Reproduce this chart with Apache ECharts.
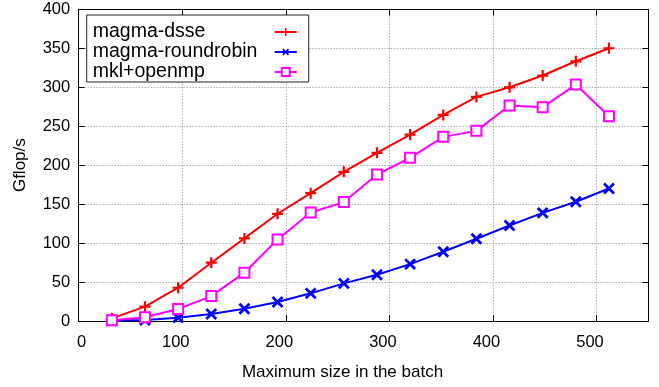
<!DOCTYPE html>
<html><head><meta charset="utf-8">
<script src="https://cdn.jsdelivr.net/npm/echarts@6/dist/echarts.min.js"></script>
<style>html,body{margin:0;padding:0;background:#fff}#c{width:659px;height:387px}</style>
</head><body><div id="c"></div>
<script>
const batchSizes = [32, 64, 96, 128, 160, 192, 224, 256, 288, 320, 352, 384, 416, 448, 480, 512];
const magmaDsse = [3.4, 18.4, 42.7, 74.8, 106, 137.6, 164.1, 191.4, 215.8, 239.3, 264.5, 287.6, 299.9, 315, 333.3, 350];
const magmaRoundrobin = [0.4, 1.3, 4.3, 9, 15.8, 24.4, 35.5, 48.3, 59.4, 73, 88.9, 105.6, 122.6, 138.8, 153, 170];
const mklOpenmp = [1, 4.7, 15.4, 32, 62, 104.7, 139.3, 152.6, 188, 209.4, 236.3, 244, 276.5, 274.4, 303.4, 262.8];
const seriesNames = ['magma-dsse', 'magma-roundrobin', 'mkl+openmp'];
const xTitle = 'Maximum size in the batch';
const yTitle = 'Gflop/s';

const FONT = '"Liberation Sans", Arial, Helvetica, sans-serif';
const pairs = arr => batchSizes.map((x, i) => [x, arr[i]]);
const PLUS = 'path://M4,0H6V4H10V6H6V10H4V6H0V4H4Z';

const chart = echarts.init(document.getElementById('c'));
const mkGrid = () => ({show: true, lineStyle: {color: '#888', type: [1, 2], width: 1}});
const mkLine = () => ({show: true, onZero: false, lineStyle: {color: '#000', width: 1}});
const mkTick = () => ({show: true, inside: true, length: 6, lineStyle: {color: '#000', width: 1}});

chart.setOption({
  animation: false,
  textStyle: {fontFamily: FONT},
  grid: {left: 78.7, right: 10.7, top: 9.3, bottom: 66},
  legend: {
    data: seriesNames,
    orient: 'vertical',
    left: 86.7, top: 15,
    align: 'right',
    itemWidth: 22, itemHeight: 10, itemGap: 0,
    padding: [7, 11, 0, 6],
    borderColor: '#222', borderWidth: 1,
    backgroundColor: '#fff',
    formatter: n => '{t|' + n + '}',
    textStyle: {
      fontFamily: FONT, fontSize: 19.5, color: '#000',
      rich: {t: {fontFamily: FONT, fontSize: 19.5, color: '#000', width: 177, align: 'left', lineHeight: 19.5}}
    }
  },
  xAxis: [{
    type: 'value', min: 0, max: 550, interval: 100,
    axisLine: mkLine(), axisTick: mkTick(), splitLine: mkGrid(),
    axisLabel: {
      margin: 13, color: '#000', fontSize: 16.5, fontFamily: FONT,
      formatter: v => v % 100 !== 0 ? '' : (v === 0 ? '{z|0}' : '{n|' + v + '}'),
      rich: {
        z: {fontSize: 16.5, fontFamily: FONT, color: '#000', padding: [0, 0, 0, 6]},
        n: {fontSize: 16.5, fontFamily: FONT, color: '#000', padding: [0, 13, 0, 0]}
      }
    },
    name: xTitle, nameLocation: 'middle', nameGap: 43,
    nameTextStyle: {fontSize: 17, color: '#000', fontFamily: FONT, padding: [0, 42, 0, 0]}
  }, {
    type: 'value', min: 0, max: 550, interval: 100, position: 'top',
    axisLine: mkLine(), axisTick: mkTick(), splitLine: {show: false}, axisLabel: {show: false}
  }],
  yAxis: [{
    type: 'value', min: 0, max: 400, interval: 50,
    axisLine: mkLine(), axisTick: mkTick(), splitLine: mkGrid(),
    axisLabel: {margin: 8.5, color: '#000', fontSize: 16.5, fontFamily: FONT},
    name: yTitle, nameLocation: 'middle', nameGap: 50,
    nameTextStyle: {fontSize: 17, color: '#000', fontFamily: FONT}
  }, {
    type: 'value', min: 0, max: 400, interval: 50, position: 'right',
    axisLine: mkLine(), axisTick: mkTick(), splitLine: {show: false}, axisLabel: {show: false}
  }],
  series: [{
    name: seriesNames[0], type: 'line', data: pairs(magmaDsse),
    symbol: PLUS, symbolSize: 11, showAllSymbol: true,
    lineStyle: {color: '#ff0000', width: 2}, itemStyle: {color: '#ff0000'}
  }, {
    name: seriesNames[1], type: 'line', data: pairs(magmaRoundrobin),
    symbol: PLUS, symbolSize: 14, symbolRotate: 45, showAllSymbol: true,
    lineStyle: {color: '#0000ff', width: 2}, itemStyle: {color: '#0000ff'}
  }, {
    name: seriesNames[2], type: 'line', data: pairs(mklOpenmp),
    symbol: 'emptyRect', symbolSize: 10, showAllSymbol: true,
    lineStyle: {color: '#ff00ff', width: 2}, itemStyle: {color: '#ff00ff', borderWidth: 2}
  }]
});
</script>
</body></html>
